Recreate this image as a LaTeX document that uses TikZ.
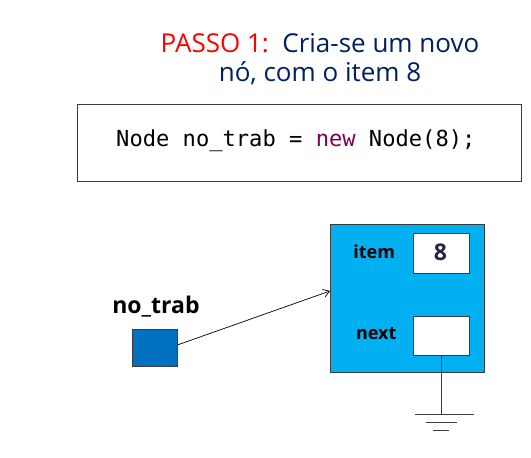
\documentclass[tikz,border=0pt]{standalone}
\usepackage{fontspec}
\setmainfont{Open Sans}
\newfontfamily\codefont{DejaVu Sans Mono}
\usetikzlibrary{arrows.meta}
\definecolor{titlered}{RGB}{255,0,0}
\definecolor{titlenavy}{RGB}{0,32,96}
\definecolor{kwpurple}{RGB}{127,0,85}
\definecolor{nodecyan}{RGB}{0,176,240}
\definecolor{varblue}{RGB}{0,112,192}
\definecolor{edgegray}{RGB}{60,60,60}
\definecolor{eightnavy}{RGB}{38,38,64}
\tikzset{
  titletext/.style={anchor=base, inner sep=0pt, font=\fontsize{26}{30}\selectfont, text=titlenavy},
  lbl/.style={anchor=base, inner sep=0pt, font=\bfseries\fontsize{18}{21}\selectfont},
  field/.style={draw=edgegray, line width=0.8pt, fill=white},
  link/.style={line width=0.7pt, -{Straight Barb[length=6pt,width=8pt]}},
  groundbar/.style={line width=0.9pt, draw=edgegray}
}
\begin{document}
\begin{tikzpicture}[x=1pt,y=-1pt]
\useasboundingbox (0,0) rectangle (531,458);
% title
\node[titletext] (t1) at (320,52.3) {\textcolor{titlered}{PASSO 1:}\ \ Cria-se um novo};
\node[titletext] (t2) at (320,81.7) {nó, com o item 8};
% code box
\draw[edgegray, line width=0.9pt] (77.3,104) rectangle (521.5,181.7);
\node[anchor=base west, inner sep=0pt, font=\codefont\fontsize{22.1}{26}\selectfont] (code) at (116,146.7)
  {Node no\_trab = \textcolor{kwpurple}{new} Node(8);};
% node structure
\draw[fill=nodecyan, draw=edgegray, line width=0.8pt] (330,224.3) rectangle (484.3,372.7);
\coordinate (nodeW) at (330,291);
\draw[field] (413.3,233.3) rectangle (469,273.3);
\draw[field] (413.3,316) rectangle (469,355);
\node[lbl] (item) at (374.2,258.3) {item};
\node[lbl] (next) at (376.3,339.3) {next};
\node[anchor=base, inner sep=0pt, font=\bfseries\fontsize{23}{26}\selectfont, text=eightnavy] (eight) at (440.5,260) {8};
% variable
\node[lbl, font=\bfseries\fontsize{23}{26}\selectfont] (vlabel) at (156,313.3) {no\_trab};
\node[draw=edgegray, fill=varblue, line width=0.8pt, minimum width=44.6pt, minimum height=37.7pt, inner sep=0pt] (var) at (155,347.8) {};
\coordinate (varE) at (177.3,345);
\draw[link] (varE) -- (nodeW);
% ground
\coordinate (nextB) at (441,355);
\coordinate (gnd) at (441,414.3);
\draw[line width=0.8pt, edgegray] (nextB) -- (gnd);
\draw[groundbar] (415,414.3) -- (474,414.3);
\draw[groundbar] (425.7,422.7) -- (457.3,422.7);
\draw[groundbar] (433,430.7) -- (449,430.7);
\end{tikzpicture}
\end{document}
